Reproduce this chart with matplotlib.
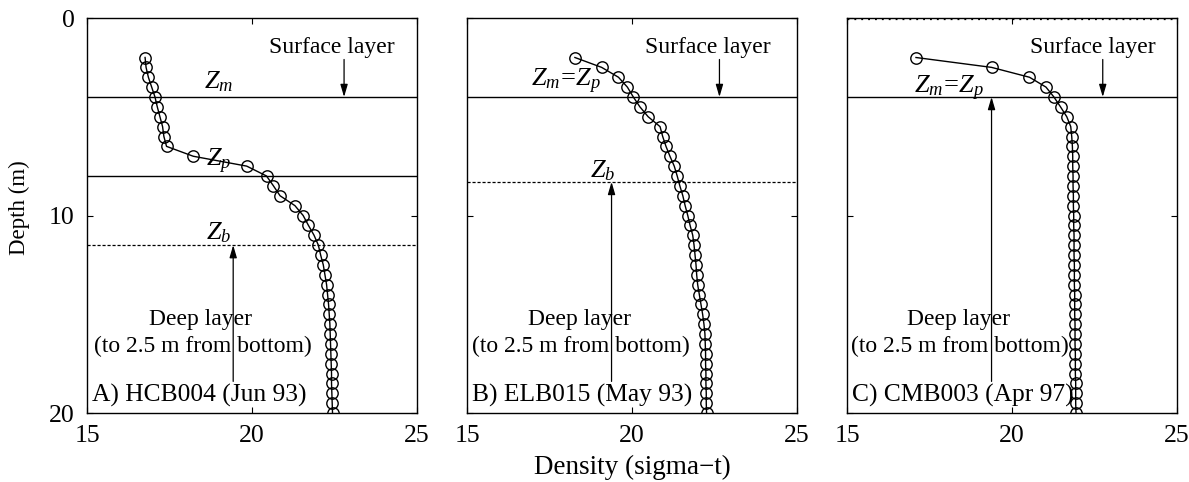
import matplotlib
matplotlib.use("Agg")
import matplotlib.pyplot as plt
import numpy as np

plt.rcParams['font.family'] = ['Liberation Serif', 'DejaVu Serif']
plt.rcParams['mathtext.fontset'] = 'custom'
plt.rcParams['mathtext.rm'] = 'Liberation Serif'
plt.rcParams['mathtext.it'] = 'Liberation Serif:italic'

# ---- data ----
depth = [2 + 0.5 * i for i in range(37)]  # 2 .. 20 m

dens_a = [16.76, 16.79, 16.86, 16.96, 17.06, 17.13, 17.21, 17.29, 17.33, 17.41,
          18.22, 19.84, 20.44, 20.65, 20.85, 21.30, 21.55, 21.71, 21.88, 22.01,
          22.08, 22.16, 22.21, 22.26, 22.29, 22.32, 22.34, 22.36, 22.37, 22.38,
          22.39, 22.40, 22.41, 22.41, 22.42, 22.43, 22.44]
dens_b = [18.27, 19.08, 19.59, 19.86, 20.04, 20.24, 20.49, 20.85, 20.93, 21.03,
          21.15, 21.28, 21.37, 21.45, 21.54, 21.61, 21.69, 21.76, 21.84, 21.88,
          21.91, 21.94, 21.96, 21.99, 22.04, 22.09, 22.14, 22.18, 22.21, 22.22,
          22.23, 22.23, 22.24, 22.24, 22.25, 22.25, 22.26]
dens_c = [17.09, 19.38, 20.53, 21.03, 21.27, 21.47, 21.66, 21.78, 21.81, 21.83,
          21.84, 21.84, 21.85, 21.85, 21.86, 21.86, 21.87, 21.87, 21.88, 21.88,
          21.88, 21.89, 21.89, 21.89, 21.90, 21.90, 21.90, 21.91, 21.91, 21.91,
          21.92, 21.92, 21.92, 21.93, 21.93, 21.93, 21.94]

panel_labels = ["A) HCB004 (Jun 93)", "B) ELB015 (May 93)", "C) CMB003 (Apr 97)"]
zm = [4.0, 4.0, 4.0]
zp = [8.0, None, None]
zb = [11.5, 8.3, 0.05]
xticks = [15, 20, 25]
yticks = [0, 10, 20]

fig = plt.figure(figsize=(11.89, 4.82), dpi=100)
lefts = [87 / 1189, 467 / 1189, 847 / 1189]
W = 330 / 1189
B = (482 - 413) / 482
H = 395 / 482

series = [dens_a, dens_b, dens_c]
FS = 17
PFS = 18.4
ZFS = 19
TFS = 18.5

for i in range(3):
    ax = fig.add_axes([lefts[i], B, W, H])
    ax.plot(series[i], depth, '-', color='black', lw=1.0,
            marker='o', ms=8.2, mfc='none', mec='black', mew=1.0, zorder=3)
    ax.set_xlim(15, 25)
    ax.set_ylim(20, 0)
    ax.set_xticks(xticks)
    ax.set_yticks(yticks)
    ax.tick_params(direction='in', length=4, width=0.8, top=True, right=True,
                   labelsize=TFS, pad=9)
    if i > 0:
        ax.set_yticklabels([])
    for s in ax.spines.values():
        s.set_linewidth(1.0)

    # horizontal lines
    ax.axhline(zm[i], color='black', lw=1.0, zorder=2)
    if zp[i] is not None:
        ax.axhline(zp[i], color='black', lw=1.0, zorder=2)
    if i < 2:
        ax.axhline(zb[i], color='black', lw=0.9, ls=(0, (2.5, 1.5)), zorder=2)
    else:
        ax.axhline(zb[i], color='black', lw=0.9, ls=(0, (1.5, 4)), zorder=2)

    arrowprops = dict(arrowstyle='-|>,head_length=0.75,head_width=0.22',
                      color='black', lw=0.9, shrinkA=0, shrinkB=0)
    # surface layer
    sx = [22.41, 22.31, 22.46][i]
    ax.text(sx, 1.5, "Surface layer", ha='center', va='center', fontsize=FS)
    ax_x = [22.79, 22.65, 22.75][i]
    ax.annotate("", xy=(ax_x, zm[i]), xytext=(ax_x, 2.1), arrowprops=arrowprops)

    # labels of lines
    if i == 0:
        ax.text(19.0, 3.25, r"$Z_m$", ha='center', va='center', fontsize=ZFS)
        ax.text(19.0, 7.25, r"$Z_p$", ha='center', va='center', fontsize=ZFS)
        ax.text(19.0, 10.85, r"$Z_b$", ha='center', va='center', fontsize=ZFS)
    elif i == 1:
        ax.text(18.0, 3.2, r"$Z_m\!=\!Z_p$", ha='center', va='center', fontsize=ZFS)
        ax.text(19.1, 7.75, r"$Z_b$", ha='center', va='center', fontsize=ZFS)
    else:
        ax.text(18.1, 3.55, r"$Z_m\!=\!Z_p$", ha='center', va='center', fontsize=ZFS)

    # deep layer
    dx = [19.43, 19.38, 19.38][i]
    target = [zb[0], zb[1], zm[2]][i]
    ax.annotate("", xy=(dx, target), xytext=(dx, 18.4), arrowprops=arrowprops)
    tx = [18.45, 18.4, 18.37][i]
    ax.text(tx, 15.25, "Deep layer", ha='center', va='center', fontsize=FS)
    ax.text(tx + 0.05, 16.65, "(to 2.5 m from bottom)", ha='center', va='center', fontsize=FS)
    ax.text(15.15, 19.1, panel_labels[i], ha='left', va='center', fontsize=PFS)

    if i == 0:
        ax.set_ylabel("Depth (m)", fontsize=16.5)
        ax.yaxis.set_label_coords(-0.172, 0.52)
    if i == 1:
        ax.set_xlabel("Density (sigma\u2212t)", fontsize=19.5, labelpad=5)

fig.savefig("out.png", dpi=100)
